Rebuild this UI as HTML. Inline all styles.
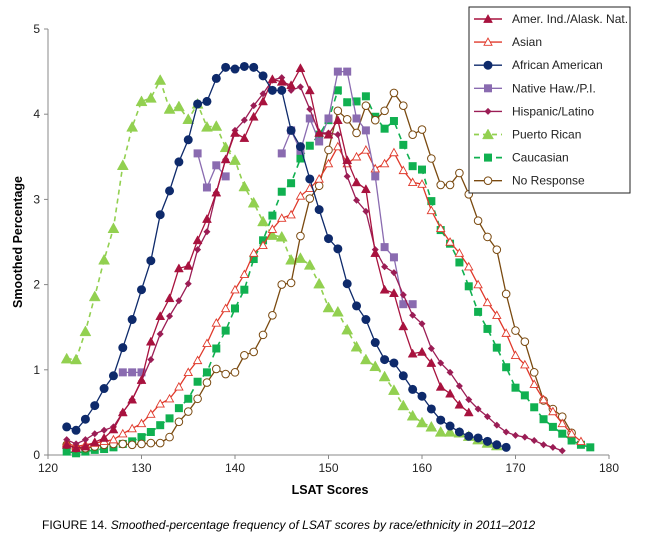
<!DOCTYPE html>
<html><head><meta charset="utf-8">
<style>
body{margin:0;background:#fff;width:645px;height:550px;overflow:hidden;font-family:"Liberation Sans",Arial,sans-serif;}
svg text{font-family:"Liberation Sans",Arial,sans-serif;}
</style></head>
<body>
<svg id="chart" width="645" height="550" viewBox="0 0 645 550" xmlns="http://www.w3.org/2000/svg">
<g id="axes"></g>
<g id="series"></g>
<g id="legend"></g>
<text x="0" y="0" transform="translate(22,242) rotate(-90)" text-anchor="middle" font-size="12.5" font-weight="bold">Smoothed Percentage</text>
<text x="330" y="494" text-anchor="middle" font-size="12.5" font-weight="bold">LSAT Scores</text>
<text x="42" y="529" font-size="12">FIGURE 14. <tspan font-style="italic">Smoothed-percentage frequency of LSAT scores by race/ethnicity in 2011–2012</tspan></text>
</svg>
<script>
const xTicks=[120,130,140,150,160,170,180];
const yTicks=[0,1,2,3,4,5];
const seriesNames=["Amer. Ind./Alask. Nat.","Asian","African American","Native Haw./P.I.","Hispanic/Latino","Puerto Rican","Caucasian","No Response"];
const amerIndStart=122;
const amerIndValues=[0.12,0.08,0.10,0.15,0.20,0.30,0.50,0.65,0.88,1.33,1.63,1.84,2.19,2.22,2.52,2.77,3.08,3.47,3.78,3.72,3.97,4.15,4.41,4.38,4.34,4.54,4.28,3.78,3.76,3.93,3.46,3.20,3.12,2.37,1.94,1.90,1.51,1.19,1.21,1.08,0.80,0.72,0.59,0.50];
const asianStart=122;
const asianValues=[0.14,0.10,0.12,0.14,0.16,0.18,0.25,0.31,0.37,0.48,0.60,0.66,0.80,0.97,1.11,1.31,1.55,1.72,1.94,2.12,2.37,2.46,2.65,2.78,2.82,3.04,3.13,3.24,3.42,3.62,3.42,3.50,3.58,3.36,3.42,3.55,3.34,3.20,3.18,2.87,2.66,2.50,2.37,2.21,2.00,1.79,1.64,1.43,1.17,1.06,0.83,0.65,0.51,0.37,0.25,0.16];
const africanStart=122;
const africanValues=[0.33,0.29,0.42,0.58,0.78,0.93,1.26,1.59,1.94,2.28,2.82,3.10,3.44,3.70,4.12,4.15,4.42,4.55,4.53,4.56,4.55,4.45,4.28,4.28,3.81,3.62,3.24,2.88,2.54,2.42,2.01,1.75,1.59,1.32,1.12,1.08,0.93,0.77,0.69,0.54,0.41,0.34,0.27,0.22,0.20,0.16,0.12,0.09];
const nativeStart=128;
const nativeValues=[0.97,0.97,0.97,null,null,null,null,null,3.54,3.14,3.40,3.27,null,null,null,null,null,3.54,3.81,3.57,3.95,3.68,3.95,4.50,4.50,3.95,3.81,3.27,2.44,2.32,1.77,1.77];
const hispanicStart=122;
const hispanicValues=[0.18,0.13,0.18,0.25,0.29,0.33,0.50,0.65,0.87,1.12,1.42,1.63,1.81,2.01,2.41,2.62,3.08,3.47,3.81,3.93,4.10,4.24,4.40,4.43,4.28,4.32,4.06,3.78,3.78,3.76,3.27,2.99,2.86,2.41,2.21,2.14,1.88,1.64,1.54,1.25,1.08,0.97,0.81,0.65,0.54,0.45,0.35,0.27,0.23,0.21,0.17,0.12,0.09,0.05];
const puertoStart=122;
const puertoValues=[1.13,1.12,1.45,1.86,2.29,2.66,3.40,3.85,4.15,4.19,4.40,4.06,4.09,3.94,4.12,3.85,3.86,3.61,3.46,3.15,2.96,2.74,2.58,2.56,2.29,2.31,2.23,2.01,1.73,1.68,1.47,1.27,1.12,1.04,0.92,0.76,0.58,0.46,0.38,0.33,0.27,0.27,0.26,0.22,0.18,0.14,0.11];
const caucStart=122;
const caucValues=[0.04,0.02,0.04,0.06,0.07,0.09,0.13,0.16,0.21,0.27,0.35,0.43,0.55,0.66,0.86,0.97,1.25,1.46,1.72,1.94,2.30,2.52,2.81,3.09,3.19,3.48,3.63,3.76,3.93,4.28,4.14,4.15,4.21,3.97,3.83,3.92,3.64,3.39,3.35,2.98,2.64,2.48,2.26,1.98,1.68,1.48,1.26,1.03,0.79,0.70,0.56,0.42,0.33,0.25,0.17,0.12,0.09];
const noRespStart=122;
const noRespValues=[0.12,0.08,0.08,0.10,0.12,0.13,0.13,0.12,0.13,0.14,0.14,0.21,0.39,0.51,0.66,0.85,1.01,0.95,0.97,1.17,1.21,1.41,1.64,2.00,2.02,2.57,3.01,3.16,3.58,4.04,3.94,3.78,4.10,3.93,4.04,4.25,4.10,3.76,3.82,3.48,3.17,3.17,3.31,3.06,2.75,2.56,2.41,1.89,1.46,1.33,0.97,0.64,0.54,0.45,0.26];

const X0=48,X1=609,Y0=455,Y1=29;
function xs(v){return X0+(v-120)/(180-120)*(X1-X0);}
function ys(v){return Y0-(v-0)/(5-0)*(Y0-Y1);}
const NS="http://www.w3.org/2000/svg";
function mk(tag,attrs,parent){const e=document.createElementNS(NS,tag);for(const k in attrs)e.setAttribute(k,attrs[k]);parent.appendChild(e);return e;}

const axes=document.getElementById('axes');
let xa=mk('line',{x1:X0,y1:Y0,x2:X1,y2:Y0,stroke:'#888','stroke-width':1},axes);


let ya=mk('line',{x1:X0,y1:Y0,x2:X0,y2:Y1,stroke:'#888','stroke-width':1},axes);


xTicks.forEach(t=>{
  const tk=mk('line',{x1:xs(t),y1:Y0,x2:xs(t),y2:Y0+4,stroke:'#888'},axes);
  
  
  const lb=mk('text',{x:xs(t),y:Y0+17,'text-anchor':'middle','font-size':12,fill:'#222'},axes);
  lb.textContent=t;
  
  
});
yTicks.forEach(t=>{
  const tk=mk('line',{x1:X0-4,y1:ys(t),x2:X0,y2:ys(t),stroke:'#888'},axes);
  
  
  const lb=mk('text',{x:X0-8,y:ys(t)+4,'text-anchor':'end','font-size':12,fill:'#222'},axes);
  lb.textContent=t;
  
  
});

const styles=[
 {c:'#a8123e',m:'tri',fill:true,dash:null},
 {c:'#e0392b',m:'tri',fill:false,dash:null},
 {c:'#0e2a6b',m:'circ',fill:true,dash:null},
 {c:'#8a6bb0',m:'sq',fill:true,dash:null},
 {c:'#9b1d55',m:'dia',fill:true,dash:null},
 {c:'#92d050',m:'tri',fill:true,dash:'5,4',big:true},
 {c:'#10b050',m:'sq',fill:true,dash:'6,5',big:true},
 {c:'#7a4a10',m:'circ',fill:false,dash:null}
];
const starts=[amerIndStart,asianStart,africanStart,nativeStart,hispanicStart,puertoStart,caucStart,noRespStart];
const vals=[amerIndValues,asianValues,africanValues,nativeValues,hispanicValues,puertoValues,caucValues,noRespValues];
const keys=['amer-ind','asian','african-american','native-haw','hispanic','puerto-rican','caucasian','no-response'];

function marker(g,st,x,y){
  let e;const f=st.fill?st.c:'#fff';
  if(st.m==='tri'){const s=st.big?5.5:(st.fill?4.5:4);e=mk('path',{d:`M${x},${y-s} L${x+s},${y+s*0.8} L${x-s},${y+s*0.8}Z`,fill:f,stroke:st.c,'stroke-width':st.fill?0.5:0.9},g);}
  else if(st.m==='circ'){e=mk('circle',{cx:x,cy:y,r:st.fill?4:3.8,fill:f,stroke:st.c,'stroke-width':1},g);}
  else if(st.m==='sq'){const s=4;e=mk('rect',{x:x-s,y:y-s,width:2*s,height:2*s,fill:f,stroke:'none'},g);}
  else {e=mk('path',{d:`M${x},${y-3.5} L${x+3.5},${y} L${x},${y+3.5} L${x-3.5},${y}Z`,fill:f},g);}
  return e;
}

const sg=document.getElementById('series');
const order=[6,5,7,1,3,4,0,2];
order.forEach(i=>{
  const st=styles[i];
  const g=mk('g',{},sg);
  
  
  let segs=[],cur=[];
  vals[i].forEach((v,j)=>{
    if(v===null){if(cur.length)segs.push(cur);cur=[];return;}
    cur.push([xs(starts[i]+j),ys(v)]);
  });
  if(cur.length)segs.push(cur);
  segs.forEach(s=>{
    if(s.length<2)return;
    const attrs={points:s.map(p=>p.join(',')).join(' '),fill:'none',stroke:st.c,'stroke-width':st.dash?1.6:1.3};
    if(st.dash)attrs['stroke-dasharray']=st.dash;
    const pl=mk('polyline',attrs,g);
    
    
  });
  vals[i].forEach((v,j)=>{
    if(v===null)return;
    const m=marker(g,st,xs(starts[i]+j),ys(v));
    
    
  });
});

const lg=document.getElementById('legend');
const box=mk('rect',{x:469,y:7,width:161,height:186,fill:'#fff',stroke:'#222','stroke-width':1},lg);


seriesNames.forEach((n,i)=>{
  const st=styles[i];const y=19+i*23.1;
  const g=mk('g',{},lg);
  
  
  const a={x1:474,y1:y,x2:502,y2:y,stroke:st.c,'stroke-width':st.dash?1.8:1.4};
  if(st.dash)a['stroke-dasharray']=st.dash;
  mk('line',a,g);
  marker(g,st,488,y);
  const t=mk('text',{x:512,y:y+4,'font-size':12,fill:'#222'},g);
  t.textContent=n;
});
</script>
</body></html>
